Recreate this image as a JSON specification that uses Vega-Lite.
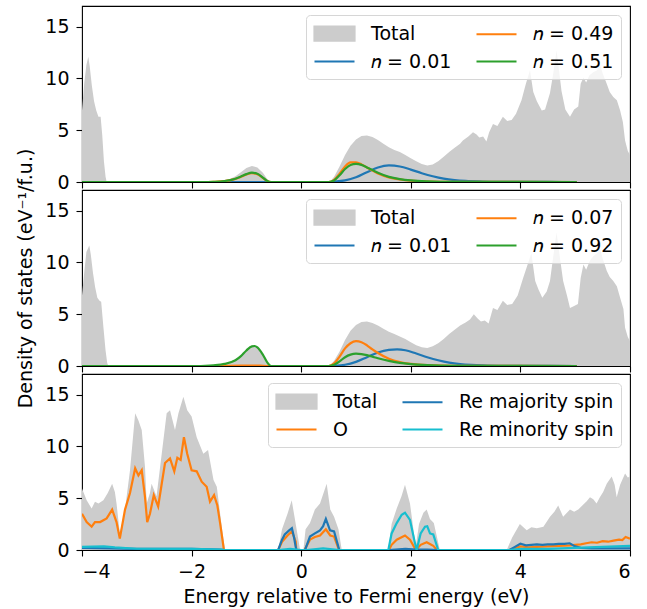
{
  "$schema": "https://vega.github.io/schema/vega-lite/v6.json",
  "padding": {"left": 16, "top": 5, "right": 17, "bottom": 3},
  "background": "white",
  "config": {
    "font": "DejaVu Sans",
    "view": {"stroke": "black", "strokeWidth": 1.1},
    "axis": {"grid": false, "domain": false, "tickColor": "black", "tickWidth": 1.1, "tickSize": 6,
             "labelFontSize": 19, "labelColor": "black", "labelFont": "DejaVu Sans",
             "titleFontSize": 19, "titleFontWeight": "normal", "titleColor": "black", "titleFont": "DejaVu Sans"},
    "legend": {"orient": "top-right", "offset": 9, "columns": 2, "columnPadding": 20, "rowPadding": 5, "padding": 7,
               "labelFontSize": 19, "labelFont": "DejaVu Sans", "labelColor": "black", "labelOffset": 35, "labelLimit": 300,
               "symbolSize": 400, "symbolStrokeWidth": 2.2, "strokeColor": "#d6d6d6", "fillColor": "rgba(255,255,255,0.8)", "cornerRadius": 4}
  },
  "datasets": {
    "a": [
      {"s":"Total","e":-4.0,"d":6.9},{"s":"Total","e":-3.96,"d":9.5},{"s":"Total","e":-3.92,"d":11.3},{"s":"Total","e":-3.885,"d":12.1},{"s":"Total","e":-3.86,"d":11.2},{"s":"Total","e":-3.82,"d":9.3},{"s":"Total","e":-3.78,"d":7.8},{"s":"Total","e":-3.74,"d":6.9},{"s":"Total","e":-3.7,"d":6.3},{"s":"Total","e":-3.66,"d":6.3},{"s":"Total","e":-3.63,"d":4.5},{"s":"Total","e":-3.6,"d":2.0},{"s":"Total","e":-3.57,"d":0.5},{"s":"Total","e":-3.55,"d":0},
      {"s":"Total","e":-1.6,"d":0},{"s":"Total","e":-1.45,"d":0.1},{"s":"Total","e":-1.3,"d":0.3},{"s":"Total","e":-1.2,"d":0.55},{"s":"Total","e":-1.1,"d":0.95},{"s":"Total","e":-1.0,"d":1.35},{"s":"Total","e":-0.9,"d":1.55},{"s":"Total","e":-0.8,"d":1.4},{"s":"Total","e":-0.7,"d":0.9},{"s":"Total","e":-0.62,"d":0.3},{"s":"Total","e":-0.56,"d":0},
      {"s":"Total","e":0.52,"d":0},{"s":"Total","e":0.6,"d":0.5},{"s":"Total","e":0.7,"d":1.5},{"s":"Total","e":0.8,"d":2.6},{"s":"Total","e":0.9,"d":3.5},{"s":"Total","e":1.0,"d":4.1},{"s":"Total","e":1.1,"d":4.45},{"s":"Total","e":1.2,"d":4.5},{"s":"Total","e":1.3,"d":4.35},{"s":"Total","e":1.4,"d":4.05},{"s":"Total","e":1.5,"d":3.7},{"s":"Total","e":1.6,"d":3.35},{"s":"Total","e":1.7,"d":3.1},{"s":"Total","e":1.8,"d":2.9},{"s":"Total","e":1.9,"d":2.6},{"s":"Total","e":2.0,"d":2.3},{"s":"Total","e":2.1,"d":2.0},{"s":"Total","e":2.2,"d":1.75},{"s":"Total","e":2.3,"d":1.6},{"s":"Total","e":2.4,"d":1.7},{"s":"Total","e":2.5,"d":2.0},{"s":"Total","e":2.6,"d":2.45},{"s":"Total","e":2.7,"d":2.9},{"s":"Total","e":2.8,"d":3.3},{"s":"Total","e":2.9,"d":3.7},{"s":"Total","e":2.95,"d":4.0},{"s":"Total","e":3.0,"d":4.2},{"s":"Total","e":3.05,"d":4.4},{"s":"Total","e":3.135,"d":4.8},{"s":"Total","e":3.2,"d":4.6},{"s":"Total","e":3.25,"d":4.3},{"s":"Total","e":3.32,"d":4.4},{"s":"Total","e":3.38,"d":3.9},{"s":"Total","e":3.43,"d":4.8},{"s":"Total","e":3.5,"d":5.6},{"s":"Total","e":3.58,"d":5.4},{"s":"Total","e":3.68,"d":6.3},{"s":"Total","e":3.76,"d":5.9},{"s":"Total","e":3.84,"d":6.0},{"s":"Total","e":3.92,"d":6.6},{"s":"Total","e":4.02,"d":7.9},{"s":"Total","e":4.1,"d":9.5},{"s":"Total","e":4.175,"d":10.8},{"s":"Total","e":4.235,"d":8.7},{"s":"Total","e":4.3,"d":7.8},{"s":"Total","e":4.39,"d":6.9},{"s":"Total","e":4.45,"d":7.0},{"s":"Total","e":4.54,"d":8.6},{"s":"Total","e":4.6,"d":10.5},{"s":"Total","e":4.66,"d":12.7},{"s":"Total","e":4.7,"d":11.0},{"s":"Total","e":4.75,"d":8.8},{"s":"Total","e":4.82,"d":7.0},{"s":"Total","e":4.905,"d":6.3},{"s":"Total","e":4.98,"d":7.0},{"s":"Total","e":5.056,"d":7.3},{"s":"Total","e":5.1,"d":9.5},{"s":"Total","e":5.15,"d":10.1},{"s":"Total","e":5.2,"d":9.6},{"s":"Total","e":5.26,"d":10.3},{"s":"Total","e":5.33,"d":10.6},{"s":"Total","e":5.4,"d":10.8},{"s":"Total","e":5.45,"d":11.4},{"s":"Total","e":5.5,"d":10.5},{"s":"Total","e":5.575,"d":9.5},{"s":"Total","e":5.63,"d":8.7},{"s":"Total","e":5.695,"d":8.2},{"s":"Total","e":5.76,"d":7.9},{"s":"Total","e":5.82,"d":6.9},{"s":"Total","e":5.87,"d":5.8},{"s":"Total","e":5.91,"d":4.0},{"s":"Total","e":5.96,"d":3.0},{"s":"Total","e":6.0,"d":2.6},
      {"s":"𝑛 = 0.01","e":-4,"d":0},{"s":"𝑛 = 0.01","e":0.5,"d":0},{"s":"𝑛 = 0.01","e":0.6,"d":0.03},{"s":"𝑛 = 0.01","e":0.8,"d":0.15},{"s":"𝑛 = 0.01","e":1.0,"d":0.45},{"s":"𝑛 = 0.01","e":1.2,"d":0.95},{"s":"𝑛 = 0.01","e":1.4,"d":1.4},{"s":"𝑛 = 0.01","e":1.6,"d":1.6},{"s":"𝑛 = 0.01","e":1.8,"d":1.5},{"s":"𝑛 = 0.01","e":2.0,"d":1.2},{"s":"𝑛 = 0.01","e":2.2,"d":0.85},{"s":"𝑛 = 0.01","e":2.4,"d":0.55},{"s":"𝑛 = 0.01","e":2.6,"d":0.32},{"s":"𝑛 = 0.01","e":2.8,"d":0.18},{"s":"𝑛 = 0.01","e":3.0,"d":0.1},{"s":"𝑛 = 0.01","e":3.3,"d":0.05},{"s":"𝑛 = 0.01","e":3.8,"d":0.02},{"s":"𝑛 = 0.01","e":4.5,"d":0.005},{"s":"𝑛 = 0.01","e":5.03,"d":0},
      {"s":"𝑛 = 0.49","e":-4,"d":0},{"s":"𝑛 = 0.49","e":-1.8,"d":0},{"s":"𝑛 = 0.49","e":-1.6,"d":0.02},{"s":"𝑛 = 0.49","e":-1.4,"d":0.08},{"s":"𝑛 = 0.49","e":-1.2,"d":0.3},{"s":"𝑛 = 0.49","e":-1.1,"d":0.5},{"s":"𝑛 = 0.49","e":-1.0,"d":0.72},{"s":"𝑛 = 0.49","e":-0.9,"d":0.85},{"s":"𝑛 = 0.49","e":-0.8,"d":0.75},{"s":"𝑛 = 0.49","e":-0.7,"d":0.4},{"s":"𝑛 = 0.49","e":-0.62,"d":0.1},{"s":"𝑛 = 0.49","e":-0.55,"d":0},{"s":"𝑛 = 0.49","e":0.5,"d":0},{"s":"𝑛 = 0.49","e":0.6,"d":0.2},{"s":"𝑛 = 0.49","e":0.7,"d":0.8},{"s":"𝑛 = 0.49","e":0.8,"d":1.5},{"s":"𝑛 = 0.49","e":0.9,"d":1.9},{"s":"𝑛 = 0.49","e":1.0,"d":1.9},{"s":"𝑛 = 0.49","e":1.1,"d":1.7},{"s":"𝑛 = 0.49","e":1.2,"d":1.4},{"s":"𝑛 = 0.49","e":1.3,"d":1.1},{"s":"𝑛 = 0.49","e":1.4,"d":0.82},{"s":"𝑛 = 0.49","e":1.6,"d":0.45},{"s":"𝑛 = 0.49","e":1.8,"d":0.25},{"s":"𝑛 = 0.49","e":2.0,"d":0.13},{"s":"𝑛 = 0.49","e":2.3,"d":0.05},{"s":"𝑛 = 0.49","e":2.8,"d":0.01},{"s":"𝑛 = 0.49","e":5.03,"d":0},
      {"s":"𝑛 = 0.51","e":-4,"d":0},{"s":"𝑛 = 0.51","e":-1.8,"d":0},{"s":"𝑛 = 0.51","e":-1.6,"d":0.02},{"s":"𝑛 = 0.51","e":-1.4,"d":0.09},{"s":"𝑛 = 0.51","e":-1.2,"d":0.32},{"s":"𝑛 = 0.51","e":-1.1,"d":0.53},{"s":"𝑛 = 0.51","e":-1.0,"d":0.76},{"s":"𝑛 = 0.51","e":-0.9,"d":0.9},{"s":"𝑛 = 0.51","e":-0.8,"d":0.8},{"s":"𝑛 = 0.51","e":-0.7,"d":0.43},{"s":"𝑛 = 0.51","e":-0.62,"d":0.1},{"s":"𝑛 = 0.51","e":-0.55,"d":0},{"s":"𝑛 = 0.51","e":0.5,"d":0},{"s":"𝑛 = 0.51","e":0.6,"d":0.15},{"s":"𝑛 = 0.51","e":0.7,"d":0.65},{"s":"𝑛 = 0.51","e":0.8,"d":1.25},{"s":"𝑛 = 0.51","e":0.9,"d":1.65},{"s":"𝑛 = 0.51","e":1.0,"d":1.75},{"s":"𝑛 = 0.51","e":1.1,"d":1.65},{"s":"𝑛 = 0.51","e":1.2,"d":1.4},{"s":"𝑛 = 0.51","e":1.3,"d":1.15},{"s":"𝑛 = 0.51","e":1.4,"d":0.9},{"s":"𝑛 = 0.51","e":1.6,"d":0.5},{"s":"𝑛 = 0.51","e":1.8,"d":0.28},{"s":"𝑛 = 0.51","e":2.0,"d":0.15},{"s":"𝑛 = 0.51","e":2.3,"d":0.06},{"s":"𝑛 = 0.51","e":2.8,"d":0.01},{"s":"𝑛 = 0.51","e":5.03,"d":0}
    ],
    "b": [
      {"s":"Total","e":-4.0,"d":6.8},{"s":"Total","e":-3.96,"d":9.0},{"s":"Total","e":-3.92,"d":11.0},{"s":"Total","e":-3.867,"d":11.65},{"s":"Total","e":-3.84,"d":10.8},{"s":"Total","e":-3.8,"d":9.0},{"s":"Total","e":-3.76,"d":7.6},{"s":"Total","e":-3.72,"d":6.6},{"s":"Total","e":-3.68,"d":6.3},{"s":"Total","e":-3.65,"d":6.2},{"s":"Total","e":-3.61,"d":3.8},{"s":"Total","e":-3.57,"d":1.5},{"s":"Total","e":-3.54,"d":0.3},{"s":"Total","e":-3.52,"d":0},
      {"s":"Total","e":-1.75,"d":0},{"s":"Total","e":-1.6,"d":0.08},{"s":"Total","e":-1.4,"d":0.22},{"s":"Total","e":-1.2,"d":0.6},{"s":"Total","e":-1.1,"d":1.0},{"s":"Total","e":-1.0,"d":1.55},{"s":"Total","e":-0.9,"d":1.95},{"s":"Total","e":-0.85,"d":1.97},{"s":"Total","e":-0.8,"d":1.85},{"s":"Total","e":-0.7,"d":1.15},{"s":"Total","e":-0.62,"d":0.38},{"s":"Total","e":-0.55,"d":0},
      {"s":"Total","e":0.52,"d":0},{"s":"Total","e":0.6,"d":0.5},{"s":"Total","e":0.7,"d":1.4},{"s":"Total","e":0.8,"d":2.5},{"s":"Total","e":0.9,"d":3.4},{"s":"Total","e":1.0,"d":3.95},{"s":"Total","e":1.1,"d":4.25},{"s":"Total","e":1.2,"d":4.3},{"s":"Total","e":1.3,"d":4.15},{"s":"Total","e":1.4,"d":3.9},{"s":"Total","e":1.5,"d":3.6},{"s":"Total","e":1.6,"d":3.3},{"s":"Total","e":1.7,"d":3.1},{"s":"Total","e":1.8,"d":2.85},{"s":"Total","e":1.9,"d":2.6},{"s":"Total","e":2.0,"d":2.3},{"s":"Total","e":2.1,"d":2.0},{"s":"Total","e":2.2,"d":1.8},{"s":"Total","e":2.3,"d":1.75},{"s":"Total","e":2.4,"d":1.9},{"s":"Total","e":2.5,"d":2.2},{"s":"Total","e":2.6,"d":2.6},{"s":"Total","e":2.7,"d":3.1},{"s":"Total","e":2.8,"d":3.5},{"s":"Total","e":2.9,"d":3.9},{"s":"Total","e":3.0,"d":4.2},{"s":"Total","e":3.08,"d":4.5},{"s":"Total","e":3.15,"d":5.0},{"s":"Total","e":3.22,"d":4.6},{"s":"Total","e":3.28,"d":4.3},{"s":"Total","e":3.35,"d":4.4},{"s":"Total","e":3.42,"d":4.1},{"s":"Total","e":3.5,"d":5.6},{"s":"Total","e":3.58,"d":5.4},{"s":"Total","e":3.68,"d":6.3},{"s":"Total","e":3.76,"d":5.9},{"s":"Total","e":3.85,"d":6.0},{"s":"Total","e":3.95,"d":6.8},{"s":"Total","e":4.05,"d":8.5},{"s":"Total","e":4.15,"d":10.1},{"s":"Total","e":4.2,"d":10.9},{"s":"Total","e":4.27,"d":8.2},{"s":"Total","e":4.33,"d":7.4},{"s":"Total","e":4.4,"d":6.6},{"s":"Total","e":4.48,"d":7.2},{"s":"Total","e":4.54,"d":8.2},{"s":"Total","e":4.6,"d":10.6},{"s":"Total","e":4.66,"d":12.9},{"s":"Total","e":4.72,"d":10.5},{"s":"Total","e":4.78,"d":8.2},{"s":"Total","e":4.85,"d":6.8},{"s":"Total","e":4.905,"d":5.6},{"s":"Total","e":4.98,"d":5.8},{"s":"Total","e":5.05,"d":6.0},{"s":"Total","e":5.1,"d":8.5},{"s":"Total","e":5.15,"d":9.8},{"s":"Total","e":5.2,"d":9.3},{"s":"Total","e":5.27,"d":10.2},{"s":"Total","e":5.33,"d":10.6},{"s":"Total","e":5.4,"d":10.9},{"s":"Total","e":5.45,"d":11.4},{"s":"Total","e":5.5,"d":10.4},{"s":"Total","e":5.575,"d":9.2},{"s":"Total","e":5.63,"d":8.6},{"s":"Total","e":5.695,"d":8.2},{"s":"Total","e":5.76,"d":7.7},{"s":"Total","e":5.82,"d":6.6},{"s":"Total","e":5.88,"d":5.5},{"s":"Total","e":5.91,"d":3.7},{"s":"Total","e":5.96,"d":2.8},{"s":"Total","e":6.0,"d":2.4},
      {"s":"𝑛 = 0.01","e":-4,"d":0},{"s":"𝑛 = 0.01","e":0.5,"d":0},{"s":"𝑛 = 0.01","e":0.6,"d":0.02},{"s":"𝑛 = 0.01","e":0.8,"d":0.12},{"s":"𝑛 = 0.01","e":1.0,"d":0.4},{"s":"𝑛 = 0.01","e":1.2,"d":0.85},{"s":"𝑛 = 0.01","e":1.4,"d":1.3},{"s":"𝑛 = 0.01","e":1.6,"d":1.55},{"s":"𝑛 = 0.01","e":1.75,"d":1.6},{"s":"𝑛 = 0.01","e":1.9,"d":1.52},{"s":"𝑛 = 0.01","e":2.1,"d":1.2},{"s":"𝑛 = 0.01","e":2.3,"d":0.85},{"s":"𝑛 = 0.01","e":2.5,"d":0.55},{"s":"𝑛 = 0.01","e":2.7,"d":0.32},{"s":"𝑛 = 0.01","e":2.9,"d":0.18},{"s":"𝑛 = 0.01","e":3.1,"d":0.1},{"s":"𝑛 = 0.01","e":3.4,"d":0.05},{"s":"𝑛 = 0.01","e":4.0,"d":0.01},{"s":"𝑛 = 0.01","e":5.03,"d":0},
      {"s":"𝑛 = 0.07","e":-4,"d":0},{"s":"𝑛 = 0.07","e":-1.6,"d":0},{"s":"𝑛 = 0.07","e":-1.3,"d":0.01},{"s":"𝑛 = 0.07","e":-1.0,"d":0.04},{"s":"𝑛 = 0.07","e":-0.9,"d":0.05},{"s":"𝑛 = 0.07","e":-0.75,"d":0.03},{"s":"𝑛 = 0.07","e":-0.6,"d":0},{"s":"𝑛 = 0.07","e":0.5,"d":0},{"s":"𝑛 = 0.07","e":0.6,"d":0.25},{"s":"𝑛 = 0.07","e":0.7,"d":0.9},{"s":"𝑛 = 0.07","e":0.8,"d":1.7},{"s":"𝑛 = 0.07","e":0.9,"d":2.2},{"s":"𝑛 = 0.07","e":1.0,"d":2.4},{"s":"𝑛 = 0.07","e":1.1,"d":2.3},{"s":"𝑛 = 0.07","e":1.2,"d":2.0},{"s":"𝑛 = 0.07","e":1.3,"d":1.6},{"s":"𝑛 = 0.07","e":1.4,"d":1.25},{"s":"𝑛 = 0.07","e":1.6,"d":0.7},{"s":"𝑛 = 0.07","e":1.8,"d":0.38},{"s":"𝑛 = 0.07","e":2.0,"d":0.2},{"s":"𝑛 = 0.07","e":2.3,"d":0.08},{"s":"𝑛 = 0.07","e":2.8,"d":0.02},{"s":"𝑛 = 0.07","e":5.03,"d":0},
      {"s":"𝑛 = 0.92","e":-4,"d":0},{"s":"𝑛 = 0.92","e":-1.9,"d":0},{"s":"𝑛 = 0.92","e":-1.75,"d":0.02},{"s":"𝑛 = 0.92","e":-1.6,"d":0.07},{"s":"𝑛 = 0.92","e":-1.4,"d":0.2},{"s":"𝑛 = 0.92","e":-1.2,"d":0.55},{"s":"𝑛 = 0.92","e":-1.1,"d":0.95},{"s":"𝑛 = 0.92","e":-1.0,"d":1.5},{"s":"𝑛 = 0.92","e":-0.9,"d":1.9},{"s":"𝑛 = 0.92","e":-0.85,"d":1.93},{"s":"𝑛 = 0.92","e":-0.8,"d":1.8},{"s":"𝑛 = 0.92","e":-0.7,"d":1.1},{"s":"𝑛 = 0.92","e":-0.62,"d":0.35},{"s":"𝑛 = 0.92","e":-0.55,"d":0},{"s":"𝑛 = 0.92","e":0.5,"d":0},{"s":"𝑛 = 0.92","e":0.6,"d":0.12},{"s":"𝑛 = 0.92","e":0.7,"d":0.45},{"s":"𝑛 = 0.92","e":0.8,"d":0.85},{"s":"𝑛 = 0.92","e":0.9,"d":1.1},{"s":"𝑛 = 0.92","e":1.0,"d":1.19},{"s":"𝑛 = 0.92","e":1.1,"d":1.15},{"s":"𝑛 = 0.92","e":1.2,"d":1.05},{"s":"𝑛 = 0.92","e":1.3,"d":0.9},{"s":"𝑛 = 0.92","e":1.4,"d":0.75},{"s":"𝑛 = 0.92","e":1.6,"d":0.5},{"s":"𝑛 = 0.92","e":1.8,"d":0.3},{"s":"𝑛 = 0.92","e":2.0,"d":0.18},{"s":"𝑛 = 0.92","e":2.3,"d":0.08},{"s":"𝑛 = 0.92","e":2.8,"d":0.02},{"s":"𝑛 = 0.92","e":5.03,"d":0}
    ],
    "c": [
      {"s":"Total","e":-4.0,"d":5.95},{"s":"Total","e":-3.915,"d":4.8},{"s":"Total","e":-3.824,"d":4.0},{"s":"Total","e":-3.763,"d":4.67},{"s":"Total","e":-3.7,"d":4.5},{"s":"Total","e":-3.61,"d":4.8},{"s":"Total","e":-3.53,"d":5.5},{"s":"Total","e":-3.45,"d":6.4},{"s":"Total","e":-3.4,"d":5.6},{"s":"Total","e":-3.37,"d":4.5},{"s":"Total","e":-3.31,"d":1.6},{"s":"Total","e":-3.215,"d":3.9},{"s":"Total","e":-3.124,"d":7.7},{"s":"Total","e":-3.03,"d":13.2},{"s":"Total","e":-2.97,"d":12.5},{"s":"Total","e":-2.91,"d":11.6},{"s":"Total","e":-2.85,"d":8.0},{"s":"Total","e":-2.82,"d":4.5},{"s":"Total","e":-2.76,"d":5.5},{"s":"Total","e":-2.73,"d":6.4},{"s":"Total","e":-2.64,"d":5.2},{"s":"Total","e":-2.545,"d":9.3},{"s":"Total","e":-2.455,"d":13.2},{"s":"Total","e":-2.394,"d":13.5},{"s":"Total","e":-2.303,"d":11.6},{"s":"Total","e":-2.24,"d":13.2},{"s":"Total","e":-2.15,"d":14.8},{"s":"Total","e":-2.08,"d":13.5},{"s":"Total","e":-2.0,"d":12.9},{"s":"Total","e":-1.907,"d":10.9},{"s":"Total","e":-1.786,"d":9.3},{"s":"Total","e":-1.7,"d":9.65},{"s":"Total","e":-1.6,"d":6.75},{"s":"Total","e":-1.54,"d":6.1},{"s":"Total","e":-1.45,"d":2.25},{"s":"Total","e":-1.39,"d":0},
      {"s":"Total","e":-0.42,"d":0},{"s":"Total","e":-0.35,"d":2.0},{"s":"Total","e":-0.25,"d":3.5},{"s":"Total","e":-0.173,"d":4.8},{"s":"Total","e":-0.1,"d":2.5},{"s":"Total","e":-0.02,"d":0},{"s":"Total","e":0.04,"d":0},{"s":"Total","e":0.08,"d":2.0},{"s":"Total","e":0.16,"d":2.6},{"s":"Total","e":0.25,"d":3.9},{"s":"Total","e":0.343,"d":4.5},{"s":"Total","e":0.465,"d":6.4},{"s":"Total","e":0.53,"d":3.9},{"s":"Total","e":0.6,"d":3.2},{"s":"Total","e":0.68,"d":2.0},{"s":"Total","e":0.74,"d":0},
      {"s":"Total","e":1.59,"d":0},{"s":"Total","e":1.65,"d":2.5},{"s":"Total","e":1.743,"d":4.0},{"s":"Total","e":1.83,"d":5.2},{"s":"Total","e":1.894,"d":6.3},{"s":"Total","e":1.985,"d":4.5},{"s":"Total","e":2.06,"d":1.5},{"s":"Total","e":2.095,"d":0.5},{"s":"Total","e":2.15,"d":2.5},{"s":"Total","e":2.23,"d":3.6},{"s":"Total","e":2.29,"d":3.9},{"s":"Total","e":2.35,"d":3.0},{"s":"Total","e":2.42,"d":2.6},{"s":"Total","e":2.53,"d":0},
      {"s":"Total","e":3.75,"d":0},{"s":"Total","e":3.85,"d":1.2},{"s":"Total","e":3.99,"d":2.5},{"s":"Total","e":4.115,"d":1.9},{"s":"Total","e":4.2,"d":2.2},{"s":"Total","e":4.3,"d":2.1},{"s":"Total","e":4.42,"d":2.25},{"s":"Total","e":4.54,"d":3.2},{"s":"Total","e":4.62,"d":3.7},{"s":"Total","e":4.69,"d":4.3},{"s":"Total","e":4.78,"d":3.2},{"s":"Total","e":4.905,"d":3.9},{"s":"Total","e":4.98,"d":3.7},{"s":"Total","e":5.056,"d":3.9},{"s":"Total","e":5.13,"d":4.3},{"s":"Total","e":5.21,"d":4.7},{"s":"Total","e":5.27,"d":5.1},{"s":"Total","e":5.33,"d":4.9},{"s":"Total","e":5.39,"d":4.5},{"s":"Total","e":5.45,"d":5.1},{"s":"Total","e":5.51,"d":5.6},{"s":"Total","e":5.575,"d":6.4},{"s":"Total","e":5.666,"d":7.1},{"s":"Total","e":5.72,"d":6.3},{"s":"Total","e":5.757,"d":5.1},{"s":"Total","e":5.82,"d":6.3},{"s":"Total","e":5.91,"d":7.4},{"s":"Total","e":5.96,"d":7.0},{"s":"Total","e":6.0,"d":7.1},
      {"s":"O","e":-4.0,"d":3.5},{"s":"O","e":-3.915,"d":2.7},{"s":"O","e":-3.824,"d":2.25},{"s":"O","e":-3.763,"d":2.7},{"s":"O","e":-3.67,"d":2.7},{"s":"O","e":-3.55,"d":3.05},{"s":"O","e":-3.45,"d":3.9},{"s":"O","e":-3.37,"d":2.7},{"s":"O","e":-3.31,"d":1.1},{"s":"O","e":-3.215,"d":3.9},{"s":"O","e":-3.124,"d":5.5},{"s":"O","e":-3.03,"d":7.9},{"s":"O","e":-2.97,"d":7.2},{"s":"O","e":-2.91,"d":7.7},{"s":"O","e":-2.85,"d":5.1},{"s":"O","e":-2.81,"d":2.7},{"s":"O","e":-2.76,"d":3.5},{"s":"O","e":-2.69,"d":5.3},{"s":"O","e":-2.61,"d":4.2},{"s":"O","e":-2.545,"d":6.4},{"s":"O","e":-2.485,"d":8.4},{"s":"O","e":-2.394,"d":8.85},{"s":"O","e":-2.316,"d":7.6},{"s":"O","e":-2.26,"d":8.9},{"s":"O","e":-2.2,"d":8.7},{"s":"O","e":-2.14,"d":10.9},{"s":"O","e":-2.08,"d":9.3},{"s":"O","e":-2.0,"d":7.7},{"s":"O","e":-1.907,"d":7.6},{"s":"O","e":-1.816,"d":6.6},{"s":"O","e":-1.725,"d":6.1},{"s":"O","e":-1.664,"d":4.67},{"s":"O","e":-1.59,"d":5.3},{"s":"O","e":-1.53,"d":4.3},{"s":"O","e":-1.48,"d":2.6},{"s":"O","e":-1.41,"d":0},
      {"s":"O","e":-0.42,"d":0},{"s":"O","e":-0.35,"d":0.8},{"s":"O","e":-0.25,"d":1.4},{"s":"O","e":-0.17,"d":1.8},{"s":"O","e":-0.1,"d":0.8},{"s":"O","e":-0.09,"d":0},{"s":"O","e":0.06,"d":0},{"s":"O","e":0.16,"d":1.0},{"s":"O","e":0.25,"d":1.25},{"s":"O","e":0.343,"d":1.4},{"s":"O","e":0.45,"d":2.0},{"s":"O","e":0.53,"d":1.4},{"s":"O","e":0.6,"d":1.3},{"s":"O","e":0.69,"d":0},
      {"s":"O","e":1.6,"d":0},{"s":"O","e":1.65,"d":0.5},{"s":"O","e":1.743,"d":1.0},{"s":"O","e":1.894,"d":1.4},{"s":"O","e":1.985,"d":1.0},{"s":"O","e":2.077,"d":0.15},{"s":"O","e":2.1,"d":0.05},{"s":"O","e":2.18,"d":0.5},{"s":"O","e":2.29,"d":0.75},{"s":"O","e":2.41,"d":0.4},{"s":"O","e":2.48,"d":0},
      {"s":"O","e":3.8,"d":0},{"s":"O","e":4.0,"d":0.35},{"s":"O","e":4.15,"d":0.25},{"s":"O","e":4.3,"d":0.3},{"s":"O","e":4.5,"d":0.35},{"s":"O","e":4.7,"d":0.4},{"s":"O","e":4.9,"d":0.45},{"s":"O","e":5.0,"d":0.5},{"s":"O","e":5.1,"d":0.55},{"s":"O","e":5.2,"d":0.65},{"s":"O","e":5.3,"d":0.75},{"s":"O","e":5.4,"d":0.7},{"s":"O","e":5.5,"d":0.85},{"s":"O","e":5.6,"d":0.8},{"s":"O","e":5.7,"d":0.9},{"s":"O","e":5.8,"d":1.0},{"s":"O","e":5.86,"d":0.95},{"s":"O","e":5.92,"d":1.25},{"s":"O","e":6.0,"d":1.1},
      {"s":"Re majority spin","e":-4.0,"d":0.2},{"s":"Re majority spin","e":-3.5,"d":0.15},{"s":"Re majority spin","e":-3.0,"d":0.1},{"s":"Re majority spin","e":-2.0,"d":0.1},{"s":"Re majority spin","e":-1.5,"d":0.05},{"s":"Re majority spin","e":-1.4,"d":0},{"s":"Re majority spin","e":-0.42,"d":0},{"s":"Re majority spin","e":-0.35,"d":1.0},{"s":"Re majority spin","e":-0.3,"d":1.5},{"s":"Re majority spin","e":-0.22,"d":1.9},{"s":"Re majority spin","e":-0.17,"d":2.1},{"s":"Re majority spin","e":-0.13,"d":1.2},{"s":"Re majority spin","e":-0.09,"d":0},{"s":"Re majority spin","e":0.07,"d":0},{"s":"Re majority spin","e":0.16,"d":1.3},{"s":"Re majority spin","e":0.25,"d":1.6},{"s":"Re majority spin","e":0.343,"d":1.9},{"s":"Re majority spin","e":0.4,"d":2.3},{"s":"Re majority spin","e":0.45,"d":3.0},{"s":"Re majority spin","e":0.526,"d":1.9},{"s":"Re majority spin","e":0.6,"d":1.8},{"s":"Re majority spin","e":0.695,"d":0},{"s":"Re majority spin","e":1.6,"d":0},{"s":"Re majority spin","e":1.9,"d":0.1},{"s":"Re majority spin","e":2.1,"d":0.05},{"s":"Re majority spin","e":2.3,"d":0.05},{"s":"Re majority spin","e":2.5,"d":0},{"s":"Re majority spin","e":3.8,"d":0},{"s":"Re majority spin","e":3.9,"d":0.3},{"s":"Re majority spin","e":4.0,"d":0.6},{"s":"Re majority spin","e":4.1,"d":0.45},{"s":"Re majority spin","e":4.2,"d":0.5},{"s":"Re majority spin","e":4.3,"d":0.55},{"s":"Re majority spin","e":4.4,"d":0.5},{"s":"Re majority spin","e":4.5,"d":0.55},{"s":"Re majority spin","e":4.6,"d":0.55},{"s":"Re majority spin","e":4.7,"d":0.6},{"s":"Re majority spin","e":4.8,"d":0.6},{"s":"Re majority spin","e":4.9,"d":0.65},{"s":"Re majority spin","e":5.0,"d":0.35},{"s":"Re majority spin","e":5.1,"d":0.2},{"s":"Re majority spin","e":5.3,"d":0.15},{"s":"Re majority spin","e":5.6,"d":0.15},{"s":"Re majority spin","e":6.0,"d":0.15},
      {"s":"Re minority spin","e":-4.0,"d":0.3},{"s":"Re minority spin","e":-3.6,"d":0.35},{"s":"Re minority spin","e":-3.4,"d":0.25},{"s":"Re minority spin","e":-3.0,"d":0.12},{"s":"Re minority spin","e":-2.0,"d":0.1},{"s":"Re minority spin","e":-1.45,"d":0.05},{"s":"Re minority spin","e":-1.4,"d":0},{"s":"Re minority spin","e":-0.42,"d":0},{"s":"Re minority spin","e":-0.2,"d":0.1},{"s":"Re minority spin","e":0.0,"d":0},{"s":"Re minority spin","e":0.1,"d":0},{"s":"Re minority spin","e":0.4,"d":0.15},{"s":"Re minority spin","e":0.7,"d":0},{"s":"Re minority spin","e":1.59,"d":0},{"s":"Re minority spin","e":1.65,"d":1.6},{"s":"Re minority spin","e":1.743,"d":2.6},{"s":"Re minority spin","e":1.834,"d":3.4},{"s":"Re minority spin","e":1.894,"d":3.6},{"s":"Re minority spin","e":1.985,"d":2.9},{"s":"Re minority spin","e":2.077,"d":0.64},{"s":"Re minority spin","e":2.107,"d":0},{"s":"Re minority spin","e":2.18,"d":1.6},{"s":"Re minority spin","e":2.26,"d":2.25},{"s":"Re minority spin","e":2.3,"d":2.3},{"s":"Re minority spin","e":2.35,"d":1.6},{"s":"Re minority spin","e":2.41,"d":1.5},{"s":"Re minority spin","e":2.5,"d":0},{"s":"Re minority spin","e":3.8,"d":0},{"s":"Re minority spin","e":4.0,"d":0.1},{"s":"Re minority spin","e":4.5,"d":0.1},{"s":"Re minority spin","e":5.0,"d":0.2},{"s":"Re minority spin","e":5.5,"d":0.3},{"s":"Re minority spin","e":6.0,"d":0.4}
    ]
  },
  "spacing": 8,
  "bounds": "flush",
  "resolve": {"scale": {"color": "independent"}, "legend": {"color": "independent"}},
  "vconcat": [
    {
      "width": 548, "height": 176,
      "data": {"name": "a"},
      "encoding": {
        "x": {"field": "e", "type": "quantitative", "scale": {"domain": [-4, 6], "nice": false}, "axis": {"values": [-4,-2,0,2,4,6], "labels": false, "title": null}},
        "y": {"field": "d", "type": "quantitative", "scale": {"domain": [0, 17], "nice": false}, "axis": {"values": [0,5,10,15], "labelPadding": 7, "title": null}},
        "color": {"field": "s", "type": "nominal", "scale": {"domain": ["Total","𝑛 = 0.01","𝑛 = 0.49","𝑛 = 0.51"], "range": ["#cccccc","#1f77b4","#ff7f0e","#2ca02c"]},
          "legend": {"title": null, "symbolType": "stroke", "encode": {"symbols": {"update": {
            "shape": {"signal": "datum.value === 'Total' ? 'M-1,-0.7H3V0.7H-1Z' : 'M-1,0H3'"},
            "fill": {"signal": "datum.value === 'Total' ? '#cccccc' : 'transparent'"},
            "stroke": {"signal": "datum.value === 'Total' ? 'transparent' : datum.value === '𝑛 = 0.01' ? '#1f77b4' : datum.value === '𝑛 = 0.49' ? '#ff7f0e' : '#2ca02c'"},
            "strokeWidth": {"value": 2.2}, "opacity": {"value": 1}, "size": {"value": 400}}}}}}
      },
      "layer": [
        {"transform": [{"filter": "datum.s === 'Total'"}],
         "mark": {"type": "area", "opacity": 1, "interpolate": "linear", "clip": true}},
        {"transform": [{"filter": "datum.s !== 'Total'"}],
         "mark": {"type": "line", "strokeWidth": 2.2, "interpolate": "monotone", "clip": true}},
        {"data": {"values": [{"label": "(a) DFT+DMFT cubic"}]},
         "mark": {"type": "text", "align": "left", "baseline": "middle", "fontSize": 19, "font": "DejaVu Sans"},
         "encoding": {"x": {"datum": -3.8}, "y": {"datum": 15.45}, "text": {"field": "label"}, "color": {"value": "black"}}}
      ]
    },
    {
      "width": 548, "height": 176,
      "data": {"name": "b"},
      "encoding": {
        "x": {"field": "e", "type": "quantitative", "scale": {"domain": [-4, 6], "nice": false}, "axis": {"values": [-4,-2,0,2,4,6], "labels": false, "title": null}},
        "y": {"field": "d", "type": "quantitative", "scale": {"domain": [0, 17], "nice": false}, "axis": {"values": [0,5,10,15], "labelPadding": 7, "title": "Density of states (eV⁻¹/f.u.)", "titlePadding": 9}},
        "color": {"field": "s", "type": "nominal", "scale": {"domain": ["Total","𝑛 = 0.01","𝑛 = 0.07","𝑛 = 0.92"], "range": ["#cccccc","#1f77b4","#ff7f0e","#2ca02c"]},
          "legend": {"title": null, "symbolType": "stroke", "encode": {"symbols": {"update": {
            "shape": {"signal": "datum.value === 'Total' ? 'M-1,-0.7H3V0.7H-1Z' : 'M-1,0H3'"},
            "fill": {"signal": "datum.value === 'Total' ? '#cccccc' : 'transparent'"},
            "stroke": {"signal": "datum.value === 'Total' ? 'transparent' : datum.value === '𝑛 = 0.01' ? '#1f77b4' : datum.value === '𝑛 = 0.07' ? '#ff7f0e' : '#2ca02c'"},
            "strokeWidth": {"value": 2.2}, "opacity": {"value": 1}, "size": {"value": 400}}}}}}
      },
      "layer": [
        {"transform": [{"filter": "datum.s === 'Total'"}],
         "mark": {"type": "area", "opacity": 1, "interpolate": "linear", "clip": true}},
        {"transform": [{"filter": "datum.s !== 'Total'"}],
         "mark": {"type": "line", "strokeWidth": 2.2, "interpolate": "monotone", "clip": true}},
        {"data": {"values": [{"label": "(b) DFT+DMFT tetra"}]},
         "mark": {"type": "text", "align": "left", "baseline": "middle", "fontSize": 19, "font": "DejaVu Sans"},
         "encoding": {"x": {"datum": -3.8}, "y": {"datum": 15.45}, "text": {"field": "label"}, "color": {"value": "black"}}}
      ]
    },
    {
      "width": 548, "height": 176,
      "data": {"name": "c"},
      "encoding": {
        "x": {"field": "e", "type": "quantitative", "scale": {"domain": [-4, 6], "nice": false}, "axis": {"values": [-4,-2,0,2,4,6], "labelPadding": 6, "title": "Energy relative to Fermi energy (eV)", "titlePadding": 6}},
        "y": {"field": "d", "type": "quantitative", "scale": {"domain": [0, 17], "nice": false}, "axis": {"values": [0,5,10,15], "labelPadding": 7, "title": null}},
        "color": {"field": "s", "type": "nominal", "scale": {"domain": ["Total","O","Re majority spin","Re minority spin"], "range": ["#cccccc","#ff7f0e","#1f77b4","#17becf"]},
          "legend": {"title": null, "symbolType": "stroke", "encode": {"symbols": {"update": {
            "shape": {"signal": "datum.value === 'Total' ? 'M-1,-0.7H3V0.7H-1Z' : 'M-1,0H3'"},
            "fill": {"signal": "datum.value === 'Total' ? '#cccccc' : 'transparent'"},
            "stroke": {"signal": "datum.value === 'Total' ? 'transparent' : datum.value === 'O' ? '#ff7f0e' : datum.value === 'Re majority spin' ? '#1f77b4' : '#17becf'"},
            "strokeWidth": {"value": 2.2}, "opacity": {"value": 1}, "size": {"value": 400}}}}}}
      },
      "layer": [
        {"transform": [{"filter": "datum.s === 'Total'"}],
         "mark": {"type": "area", "opacity": 1, "interpolate": "linear", "clip": true}},
        {"transform": [{"filter": "datum.s !== 'Total'"}],
         "mark": {"type": "line", "strokeWidth": 2.2, "interpolate": "linear", "clip": true}},
        {"data": {"values": [{"label": "(c) DFT+𝑈 tetra"}]},
         "mark": {"type": "text", "align": "left", "baseline": "middle", "fontSize": 19, "font": "DejaVu Sans"},
         "encoding": {"x": {"datum": -3.8}, "y": {"datum": 15.45}, "text": {"field": "label"}, "color": {"value": "black"}}}
      ]
    }
  ]
}
